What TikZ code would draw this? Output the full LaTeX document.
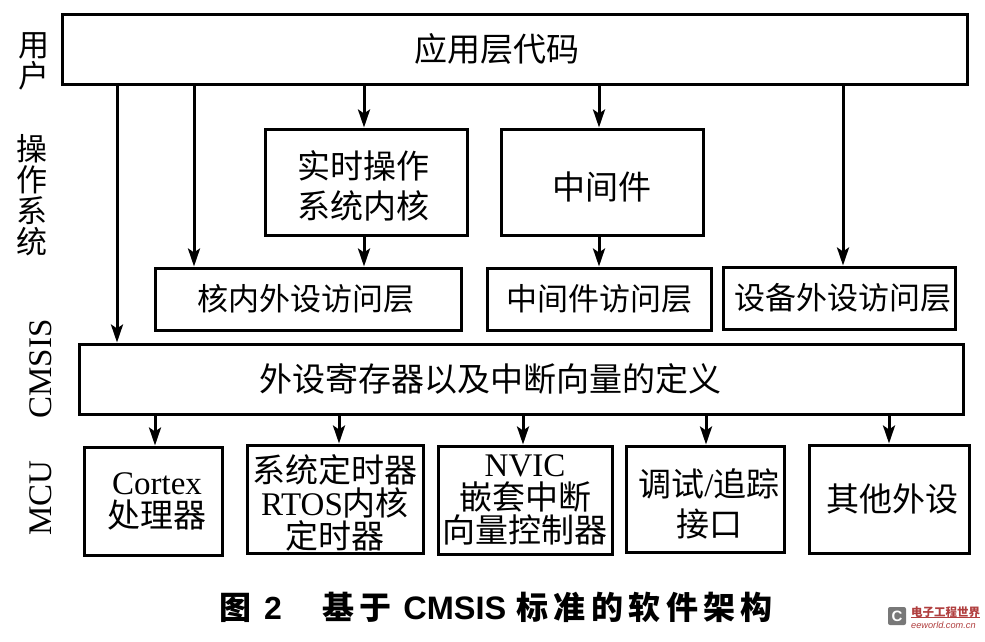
\documentclass[tikz,border=0pt]{standalone}
\usepackage{fontspec}
\setmainfont{Liberation Serif}
\newfontfamily\cjk{Noto Sans CJK SC}
\newfontfamily\capcjk[LetterSpace=17]{Noto Sans CJK SC}
\newfontfamily\capfont{Liberation Sans}
\newcommand{\cn}[1]{{\cjk #1}}
\usetikzlibrary{arrows.meta}
\tikzset{
	blockbox/.style={draw, line width=3pt, inner sep=0pt, font=\fontsize{33}{33}\selectfont, align=center},
	smallbox/.style={blockbox, font=\fontsize{31}{33}\selectfont},
	widebox/.style={blockbox, font=\fontsize{33}{40}\selectfont},
	sidelabel/.style={font=\cjk\fontsize{31}{31}\selectfont, align=center},
	latinlabel/.style={font=\fontsize{33}{33}\selectfont, rotate=90},
	flowline/.style={line width=3pt, -{Stealth[length=18pt,width=12pt,inset=4pt]}}
}
\definecolor{markred}{RGB}{176,62,62}
\definecolor{markgray}{RGB}{120,120,120}
\begin{document}
\begin{tikzpicture}[x=1pt,y=-1pt]
	%%%%% frame %%%%%
	\useasboundingbox (0,0) rectangle (985,641);
	
	\node[blockbox, minimum width=905, minimum height=70] (app) at (514.5,49) {\hspace*{-36pt}\cn{应用层代码}};
	\node[widebox, minimum width=202, minimum height=106] (rtos) at (366,182) {\rule{0pt}{36pt}\hspace*{-6pt}\cn{实时操作}\\\hspace*{-6pt}\cn{系统内核}};
	\node[blockbox, minimum width=202, minimum height=106] (mid) at (602,182) {\rule{0pt}{37pt}\cn{中间件}};
	\node[smallbox, minimum width=306, minimum height=62] (core) at (308,299) {\hspace*{-4pt}\cn{核内外设访问层}};
	\node[smallbox, minimum width=224, minimum height=62] (midacc) at (599,299) {\cn{中间件访问层}};
	\node[smallbox, minimum width=232, minimum height=62] (dev) at (839,298) {\hspace*{8pt}\cn{设备外设访问层}};
	\node[blockbox, minimum width=884, minimum height=70] (def) at (521,379) {\hspace*{-62pt}\cn{外设寄存器以及中断向量的定义}};
	
	\node[blockbox, minimum width=138, minimum height=108] (cortex) at (153,501) {\hspace*{8pt}Cortex\\\hspace*{8pt}\cn{处理器}};
	\node[blockbox, minimum width=176, minimum height=108] (timer) at (335,499) {\rule{0pt}{35pt}\cn{系统定时器}\\RTOS\cn{内核}\\\cn{定时器}};
	\node[blockbox, minimum width=174, minimum height=108] (nvic) at (525,500) {NVIC\\\cn{嵌套中断}\\\cn{向量控制器}};
	\node[widebox, minimum width=158, minimum height=106] (debug) at (705,499) {\rule{0pt}{38pt}\hspace*{8pt}\cn{调试}/\cn{追踪}\\\hspace*{8pt}\cn{接口}};
	\node[blockbox, minimum width=160, minimum height=108] (other) at (889,499) {\hspace*{6pt}\cn{其他外设}};
	
	%%%%% arrows %%%%%
	\draw[flowline] (app.south -| 117,0) -- (def.north -| 117,0);
	\draw[flowline] (app.south -| 194,0) -- (core.north -| 194,0);
	\draw[flowline] (app.south -| 364,0) -- (rtos.north -| 364,0);
	\draw[flowline] (app.south -| 599,0) -- (mid.north -| 599,0);
	\draw[flowline] (app.south -| 843,0) -- (dev.north -| 843,0);
	\draw[flowline] (rtos.south -| 364,0) -- (core.north -| 364,0);
	\draw[flowline] (mid.south -| 599,0) -- (midacc.north -| 599,0);
	\draw[flowline] (def.south -| 155,0) -- (cortex.north -| 155,0);
	\draw[flowline] (def.south -| 339,0) -- (timer.north -| 339,0);
	\draw[flowline] (def.south -| 523,0) -- (nvic.north -| 523,0);
	\draw[flowline] (def.south -| 706,0) -- (debug.north -| 706,0);
	\draw[flowline] (def.south -| 889,0) -- (other.north -| 889,0);
	
	%%%%% side labels %%%%%
	\node[sidelabel] (user) at (34,61) {用\\户};
	\node[sidelabel] (os) at (32,195) {操\\作\\系\\统};
	\node[latinlabel] (cmsis) at (41,369) {CMSIS};
	\node[latinlabel] (mcu) at (41,498) {MCU};
	
	%%%%% caption %%%%%
	\node[font=\fontsize{32}{34}\selectfont\bfseries, anchor=west, inner sep=0pt] (title) at (219,607) {{\capcjk 图}\hspace{13pt}{\capfont 2}\hspace{40pt}{\capcjk 基于}\hspace{12pt}{\capfont\fontsize{32.5}{34}\selectfont CMSIS}\hspace{10pt}{\capcjk 标准的软件架构}};
	
	%%%%% logo %%%%%
	\node[fill=markgray, rounded corners=2pt, minimum size=18pt, inner sep=0pt, text=white, font=\capfont\bfseries\fontsize{15}{15}\selectfont] (logo) at (897,616) {C};
	\node[text=markred, font=\cjk\bfseries\fontsize{11.5}{12}\selectfont, inner sep=0pt, anchor=west] (marktop) at (911,612) {电子工程世界};
	\node[text=markred, font=\capfont\itshape\fontsize{9.2}{12}\selectfont, inner sep=0pt, anchor=west] (markbottom) at (911,625) {eeworld.com.cn};
	\draw[markred, line width=0.8pt] (marktop.south west) -- (marktop.south east);
\end{tikzpicture}
\end{document}
